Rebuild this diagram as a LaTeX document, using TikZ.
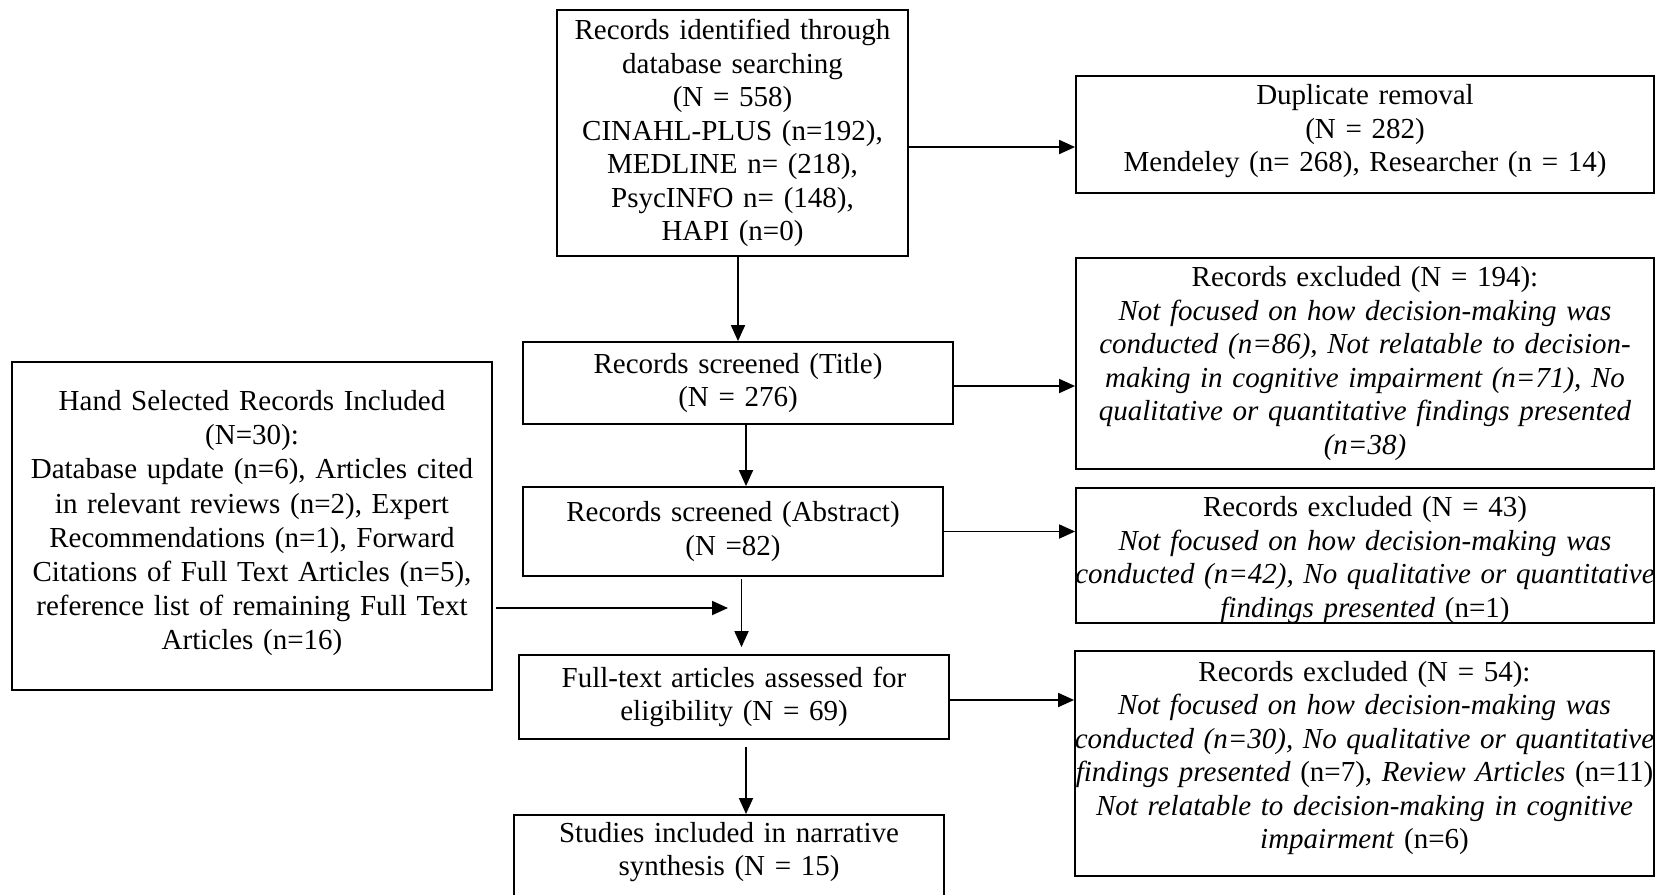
\documentclass[tikz,border=0pt]{standalone}
\usepackage{fontspec}
\setmainfont{Liberation Serif}
\usetikzlibrary{arrows.meta}
\newcommand\bodyfont{\fontsize{29pt}{33.5pt}\selectfont}
\newcommand\wideline[1]{\makebox[\linewidth]{#1}}
% invisible struts that nudge a text block inside a fixed-height box
\newcommand\pushdown[1]{\rule{0pt}{#1}}
\newcommand\pushup[1]{\rule[-#1]{0pt}{1pt}}
% a line whose descenders may cross the frame
\newcommand\nodepth[1]{\raisebox{0pt}[\height][0pt]{#1}}

\begin{document}
\begin{tikzpicture}[x=1pt,y=-1pt,
  box/.style={draw, line width=1.8pt, inner xsep=4pt, inner ysep=2pt,
              align=center, font=\bodyfont},
  flow/.style={line width=1.8pt, -{Triangle[length=16pt,width=14pt]}}]
\useasboundingbox (0,0) rectangle (1662,894);
\clip (0,0) rectangle (1662,894);

% main column
\node[box, text width=343pt, minimum height=246pt] (src) at (732.5,133)
  {Records identified through\\ database searching\\ (N = 558)\\
   CINAHL-PLUS (n=192),\\ MEDLINE n= (218),\\ PsycINFO n= (148),\\ HAPI (n=0)};
\node[box, text width=422pt, minimum height=82pt] (title) at (738,383)
  {Records screened (Title)\\ (N = 276)};
\node[box, text width=412pt, minimum height=89pt] (abs) at (733,531.5)
  {Records screened (Abstract)\\ (N =82)};
\node[box, text width=422pt, minimum height=84pt] (ft) at (734,697)
  {Full-text articles assessed for\\ eligibility (N = 69)};
\node[box, text width=422pt, anchor=north, inner ysep=7pt, text depth=70pt] (studies) at (729,814)
  {Studies included in narrative\\ synthesis (N = 15)};

% exclusion column
\node[box, text width=570pt, minimum height=117pt] (dup) at (1365,134.5)
  {Duplicate removal\\ (N = 282)\\ Mendeley (n= 268), Researcher (n = 14)\pushup{13pt}};
\node[box, text width=570pt, minimum height=211pt] (exA) at (1365,363.5)
  {Records excluded (N = 194):\\
   \textit{Not focused on how decision-making was}\\
   \textit{conducted (n=86), Not relatable to decision-}\\
   \textit{making in cognitive impairment (n=71), No}\\
   \textit{qualitative or quantitative findings presented}\\
   \textit{(n=38)}};
\node[box, text width=570pt, minimum height=135pt] (exB) at (1365,555.5)
  {\pushdown{22.5pt}Records excluded (N = 43)\\
   \textit{Not focused on how decision-making was}\\
   \wideline{\textit{conducted (n=42), No qualitative or quantitative}}\\
   \nodepth{\textit{findings presented} (n=1)}};
\node[box, text width=571pt, minimum height=225pt] (exC) at (1364.5,763.5)
  {Records excluded (N = 54):\\
   \textit{Not focused on how decision-making was}\\
   \wideline{\textit{conducted (n=30), No qualitative or quantitative}}\\
   \wideline{\textit{findings presented} (n=7), \textit{Review Articles} (n=11)}\\
   \textit{Not relatable to decision-making in cognitive}\\
   \textit{impairment} (n=6)\pushup{17pt}};

% hand-selected records
\node[box, text width=472pt, minimum height=328pt,
      font=\fontsize{29pt}{34.2pt}\selectfont] (hand) at (252,526)
  {Hand Selected Records Included\\ (N=30):\\
   Database update (n=6), Articles cited\\
   in relevant reviews (n=2), Expert\\
   Recommendations (n=1), Forward\\
   Citations of Full Text Articles (n=5),\\
   reference list of remaining Full Text\\
   Articles (n=16)\pushup{11.6pt}};

\coordinate (merge) at (728,608);

% connectors
\draw[flow] ([yshift=-14pt]src.east) -- ([yshift=-14pt]src.east -| dup.west);
\draw[flow] (src.south -| title.north) -- (title.north);
\draw[flow] ([yshift=-3pt]title.east) -- ([yshift=-3pt]title.east -| exA.west);
\draw[flow] ([xshift=8pt]title.south) -- ([xshift=8pt]title.south |- abs.north);
\draw[flow] (abs.east) -- (abs.east -| exB.west);
\draw[flow, shorten <=2pt, shorten >=7pt] ([xshift=8.5pt]abs.south) -- ([xshift=8.5pt]abs.south |- ft.north);
\draw[flow, shorten <=3pt] (hand.east |- merge) -- (merge);
\draw[flow] ([yshift=-3pt]ft.east) -- ([yshift=-3pt]ft.east -| exC.west);
\draw[flow, shorten <=7pt] ([xshift=12pt]ft.south) -- ([xshift=12pt]ft.south |- studies.north);
\end{tikzpicture}
\end{document}
